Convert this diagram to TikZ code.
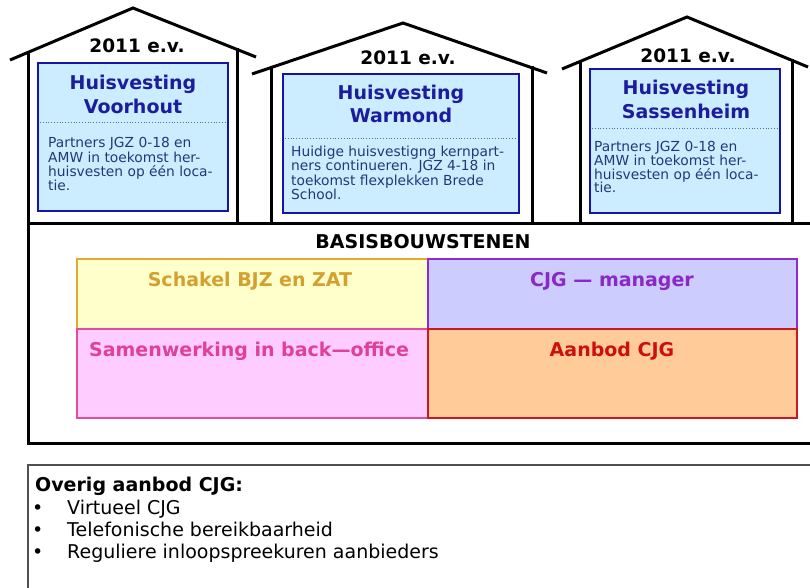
\documentclass[tikz,border=0pt]{standalone}
\usepackage{fontspec}
\setmainfont{DejaVu Sans}
\definecolor{hbord}{HTML}{1515A5}
\definecolor{hfill}{HTML}{CCECFF}
\definecolor{titleblue}{HTML}{1C1C9E}
\definecolor{bodyblue}{HTML}{1F3A78}
\definecolor{dotblue}{HTML}{5A6A9A}
\definecolor{ylfill}{HTML}{FFFFCC}
\definecolor{ylbord}{HTML}{DDAA35}
\definecolor{yltext}{HTML}{D4A030}
\definecolor{pufill}{HTML}{CCCCFF}
\definecolor{pubord}{HTML}{8E2AD0}
\definecolor{putext}{HTML}{8A28C8}
\definecolor{pkfill}{HTML}{FFCCFF}
\definecolor{pkbord}{HTML}{E0509A}
\definecolor{pktext}{HTML}{E0409A}
\definecolor{orfill}{HTML}{FFCC99}
\definecolor{orbord}{HTML}{CC1525}
\definecolor{ortext}{HTML}{CC1010}
\definecolor{grayline}{HTML}{505050}
\begin{document}
\begin{tikzpicture}[x=1pt,y=-1pt,
  wall/.style={line width=3pt,black},
  frame/.style={line width=3pt,black},
  thinframe/.style={line width=1.2pt,grayline},
  hbox/.style={draw=hbord,fill=hfill,line width=2.6pt},
  dots/.style={dotted,line width=0.8pt,dotblue},
  yeartxt/.style={font=\fontsize{18.5}{20}\selectfont\bfseries,anchor=base,inner sep=0pt},
  titletxt/.style={font=\fontsize{19}{24}\selectfont\bfseries,text=titleblue,anchor=base,inner sep=0pt},
  bodytxt/.style={font=\fontsize{13.8}{14}\selectfont,text=bodyblue,anchor=base west,inner sep=0pt},
  blocktxt/.style={font=\fontsize{19}{22}\selectfont\bfseries,anchor=base,inner sep=0pt},
  listtxt/.style={font=\fontsize{19}{22}\selectfont,anchor=base west,inner sep=0pt}]
\useasboundingbox (0,0) rectangle (810,588);
\fill[white] (0,0) rectangle (810,588);
\clip (0,0) rectangle (810,588);

% main frame and bottom frame
\draw[frame] (28,223) rectangle (840,443);
\draw[thinframe] (28,465) rectangle (840,640);

% house 1
\draw[wall] (10,60) -- (133,8) -- (256,57);
\draw[wall] (28,51) -- (28,223);
\draw[wall] (237,48) -- (237,223);
% house 2
\draw[wall] (252,74) -- (403,23) -- (547,73);
\draw[wall] (271,66) -- (271,223);
\draw[wall] (532,66) -- (532,223);
% house 3
\draw[wall] (562,69) -- (687,17) -- (808,67);
\draw[wall] (580,60) -- (580,223);
\draw[wall] (792,59) -- (792,223);

% years
\node[yeartxt] (y1) at (137,53) {2011 e.v.};
\node[yeartxt] (y2) at (408,65) {2011 e.v.};
\node[yeartxt] (y3) at (688,63) {2011 e.v.};

% blue boxes
\draw[hbox] (38,63) rectangle (228,211);
\draw[dots] (40,122) -- (226,122);
\node[titletxt] (t1a) at (133,90) {Huisvesting};
\node[titletxt] (t1b) at (133,114) {Voorhout};
\node[bodytxt] (b1a) at (48,148) {Partners JGZ 0-18 en};
\node[bodytxt] (b1b) at (48,162) {AMW in toekomst her-};
\node[bodytxt] (b1c) at (48,176) {huisvesten op één loca-};
\node[bodytxt] (b1d) at (48,190) {tie.};

\draw[hbox] (283,74) rectangle (519,213);
\draw[dots] (285,138) -- (517,138);
\node[titletxt] (t2a) at (401,100) {Huisvesting};
\node[titletxt] (t2b) at (401,123) {Warmond};
\node[bodytxt] (b2a) at (291,157) {Huidige huisvestigng kernpart-};
\node[bodytxt] (b2b) at (291,171) {ners continueren. JGZ 4-18 in};
\node[bodytxt] (b2c) at (291,185) {toekomst flexplekken Brede};
\node[bodytxt] (b2d) at (291,199) {School.};

\draw[hbox] (590,69) rectangle (780,213);
\draw[dots] (592,128) -- (778,128);
\node[titletxt] (t3a) at (686,95) {Huisvesting};
\node[titletxt] (t3b) at (686,119) {Sassenheim};
\node[bodytxt] (b3a) at (594,152) {Partners JGZ 0-18 en};
\node[bodytxt] (b3b) at (594,165) {AMW in toekomst her-};
\node[bodytxt] (b3c) at (594,179) {huisvesten op één loca-};
\node[bodytxt] (b3d) at (594,193) {tie.};

% basisbouwstenen
\node[blocktxt] (bb) at (423,248) {BASISBOUWSTENEN};
\draw[draw=ylbord,fill=ylfill,line width=2.6pt] (77,259) rectangle (428,329);
\draw[draw=pubord,fill=pufill,line width=2.6pt] (428,259) rectangle (797,329);
\draw[draw=pkbord,fill=pkfill,line width=2.6pt] (77,329) rectangle (428,418);
\draw[draw=orbord,fill=orfill,line width=2.6pt] (428,329) rectangle (797,418);
\node[blocktxt,text=yltext] (s1) at (250,286) {Schakel BJZ en ZAT};
\node[blocktxt,text=putext] (s2) at (612,286) {CJG — manager};
\node[blocktxt,text=pktext] (s3) at (249,356) {Samenwerking in back—office};
\node[blocktxt,text=ortext] (s4) at (612,356) {Aanbod CJG};

% overig
\node[listtxt,font=\fontsize{19}{22}\selectfont\bfseries] (ov) at (35,491) {Overig aanbod CJG:};
\node[listtxt] (d1) at (32,514) {•};
\node[listtxt] (l1) at (67,514) {Virtueel CJG};
\node[listtxt] (d2) at (32,536) {•};
\node[listtxt] (l2) at (67,536) {Telefonische bereikbaarheid};
\node[listtxt] (d3) at (32,558) {•};
\node[listtxt] (l3) at (67,558) {Reguliere inloopspreekuren aanbieders};
\end{tikzpicture}
\end{document}
